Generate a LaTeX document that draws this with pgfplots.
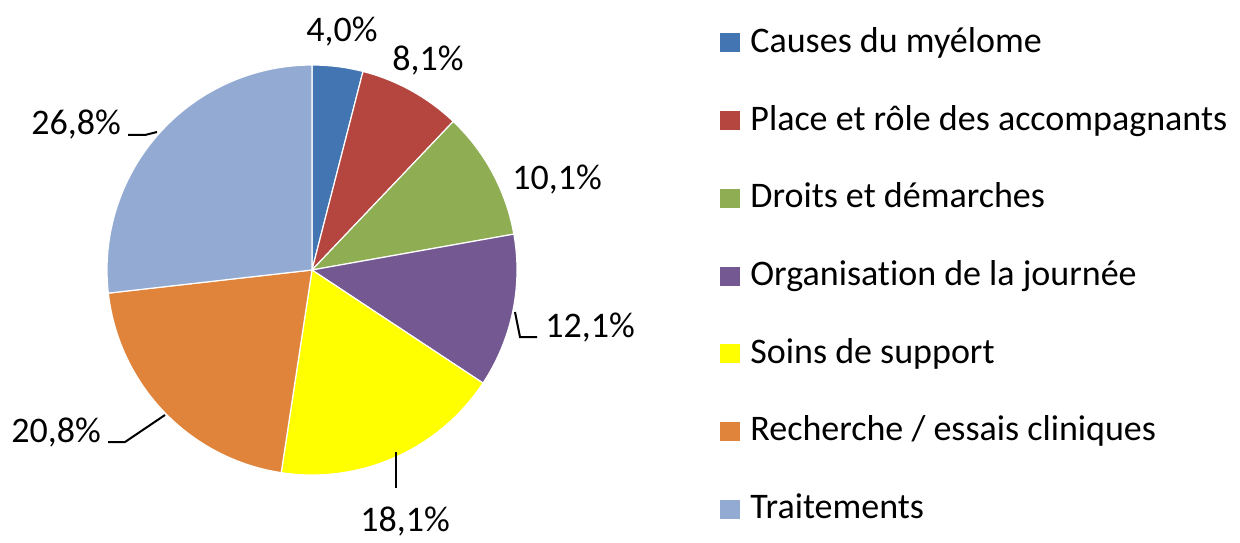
\documentclass[border=0pt]{standalone}
\usepackage{pgfplots}
\pgfplotsset{compat=1.18}
\usepackage{pgfplotstable}
\usepackage{fontspec}
\setmainfont{Carlito}[Ligatures={NoCommon}]

\definecolor{cA}{HTML}{4275B2}
\definecolor{cB}{HTML}{B5463F}
\definecolor{cC}{HTML}{8FAD53}
\definecolor{cD}{HTML}{735892}
\definecolor{cE}{HTML}{FFFF00}
\definecolor{cF}{HTML}{DF843A}
\definecolor{cG}{HTML}{93AAD3}

% shares in percent, clockwise from 12 o'clock
\pgfplotstableread{
share
4.0
8.1
10.1
12.1
18.1
20.8
26.8
}\shares

\newcommand\nextangle[2]{%
  \pgfplotstablegetelem{#1}{share}\of\shares
  \pgfmathsetmacro#2{\cum+3.6*\pgfplotsretval}%
  \let\cum#2}

% wedge between two angles (deg, clockwise from top); centre (312,270), r=205 px
\newcommand\slice[3]{%
  \addplot[fill=#3, draw=white, line width=0.6pt, domain=#1:#2, samples=60]
    ({312+205*sin(x)}, {270-205*cos(x)}) -- (axis cs:312,270) -- cycle;}

\newcommand\lbl{\fontsize{18}{21.6}\selectfont}

\begin{document}
\begin{tikzpicture}
\def\cum{0}
\nextangle{0}{\tA}
\nextangle{1}{\tB}
\nextangle{2}{\tC}
\nextangle{3}{\tD}
\nextangle{4}{\tE}
\nextangle{5}{\tF}
\nextangle{6}{\tG}
\begin{axis}[
    width=620pt, height=270pt, scale only axis,
    xmin=0, xmax=1240, ymin=0, ymax=540, y dir=reverse,
    hide axis, clip=false,
    legend style={at={(axis cs:720,28)}, anchor=north west, draw=none, fill=none,
        inner sep=0pt, row sep=22.85pt, column sep=5pt, font=\lbl,
        nodes={inner sep=0pt, text height=12pt, text depth=4pt}},
    legend cell align=left,
    legend image code/.code={\fill[#1, draw=none] (0pt,-4pt) rectangle (10pt,5.5pt);},
]
\slice{0}{\tA}{cA}
\addlegendentry{Causes du myélome}
\slice{\tA}{\tB}{cB}
\addlegendentry{Place et rôle des accompagnants}
\slice{\tB}{\tC}{cC}
\addlegendentry{Droits et démarches}
\slice{\tC}{\tD}{cD}
\addlegendentry{Organisation de la journée}
\slice{\tD}{\tE}{cE}
\addlegendentry{Soins de support}
\slice{\tE}{\tF}{cF}
\addlegendentry{Recherche / essais cliniques}
\slice{\tF}{\tG}{cG}
\addlegendentry{Traitements}

% leader lines
\addplot[black, line width=1pt, forget plot] coordinates {(515,312) (520,337) (537,337)};
\addplot[black, line width=1pt, forget plot] coordinates {(396,452) (396,488)};
\addplot[black, line width=1pt, forget plot] coordinates {(108,442) (125,442) (165,415)};
\addplot[black, line width=1pt, forget plot] coordinates {(128,135) (145,135) (157,132)};

% keeps the page at the full frame
\addplot[draw=none, forget plot] coordinates {(0,0) (1240,540)};

\node[anchor=base, font=\lbl] at (axis cs:342,42) {4,0\%};
\node[anchor=base, font=\lbl] at (axis cs:428,71) {8,1\%};
\node[anchor=base, font=\lbl] at (axis cs:557,190) {10,1\%};
\node[anchor=base, font=\lbl] at (axis cs:590,337) {12,1\%};
\node[anchor=base, font=\lbl] at (axis cs:405,531) {18,1\%};
\node[anchor=base, font=\lbl] at (axis cs:56,442) {20,8\%};
\node[anchor=base, font=\lbl] at (axis cs:76,135) {26,8\%};
\end{axis}
\end{tikzpicture}
\end{document}
